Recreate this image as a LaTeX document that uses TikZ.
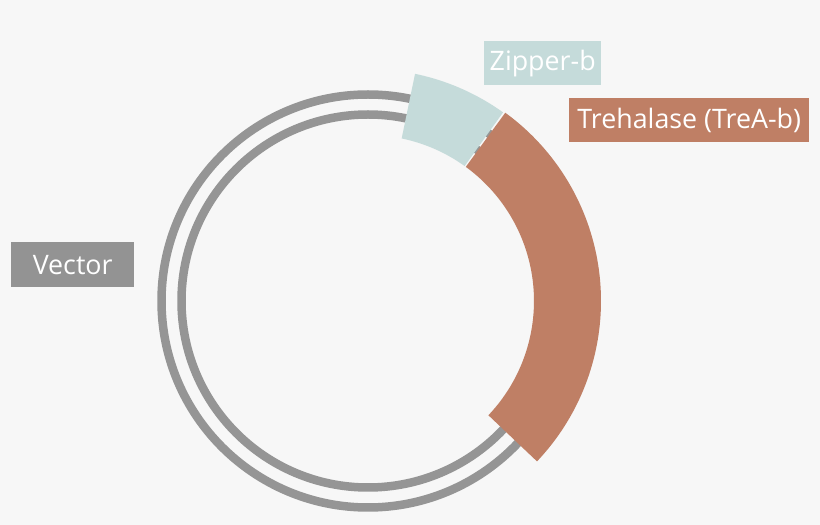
\documentclass[tikz,border=0pt]{standalone}
\usepackage{fontspec}
\setmainfont{Open Sans}
\usetikzlibrary{calc}
\definecolor{bg}{HTML}{F7F7F7}
\definecolor{ringgray}{HTML}{959595}
\definecolor{zipcol}{HTML}{C5DBDA}
\definecolor{treacol}{HTML}{BF7F65}
\definecolor{veccol}{HTML}{939393}
\tikzset{
  ring/.style={draw=ringgray, line width=8.5pt},
  label box/.style={inner sep=0pt, minimum height=44pt, text=white,
    font=\fontsize{26.8}{30}\selectfont, anchor=north west}
}
\begin{document}
\begin{tikzpicture}[x=1pt,y=1pt]
\fill[bg] (0,0) rectangle (820,525);
\useasboundingbox (0,0) rectangle (820,525);
\coordinate (c) at (368,224);
% rings
\draw[ring] (c) circle[radius=206.5];
\draw[ring] (c) circle[radius=186.5];
% Zipper-b block
\fill[zipcol] ($(c)+(54.4:166)$) arc[start angle=54.4, end angle=78.3, radius=166]
  -- ($(c)+(78.3:232)$) arc[start angle=78.3, end angle=54.4, radius=232] -- cycle;
% Trehalase block
\fill[treacol] ($(c)+(-43.5:166)$) arc[start angle=-43.5, end angle=53.9, radius=166]
  -- ($(c)+(53.9:233)$) arc[start angle=53.9, end angle=-43.5, radius=233] -- cycle;
% labels
\node[label box, fill=zipcol, minimum width=117pt] (zip) at (484,484) {Zipper-b};
\node[label box, fill=treacol, minimum width=240pt] (trea) at (569,427) {Trehalase (TreA-b)};
\node[label box, fill=veccol, minimum width=123pt, minimum height=45pt] (vec) at (11,283) {Vector};
\end{tikzpicture}
\end{document}
